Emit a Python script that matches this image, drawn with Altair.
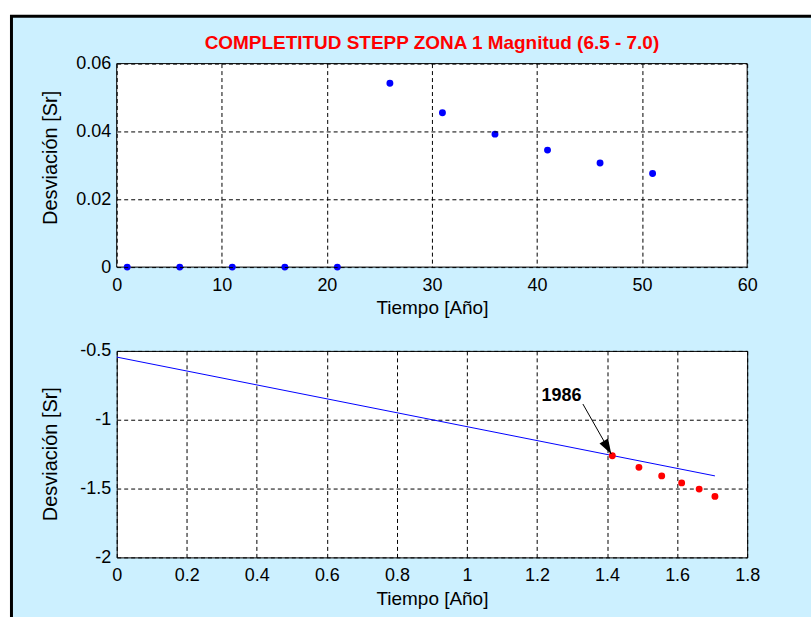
import altair as alt
import pandas as pd

# STEPP completeness, zone 1, magnitudes 6.5 - 7.0
tiempo = [1, 6, 11, 16, 21, 26, 31, 36, 41, 46, 51]
desviacion = [0, 0, 0, 0, 0, 0.0542, 0.0455, 0.0392, 0.0345, 0.0307, 0.0276]

# log-log view of the non-zero part
log_tiempo = [1.415, 1.491, 1.556, 1.613, 1.663, 1.708]
log_desviacion = [-1.262, -1.346, -1.408, -1.459, -1.504, -1.557]

# fitted line (endpoints)
ajuste_x = [0.0, 1.708]
ajuste_y = [-0.545, -1.408]

# annotation for the completeness year
anio_texto = ["1986"]
anio_pos = [1.270, -0.826]
flecha_desde = [1.331, -0.886]
flecha_hasta = [1.412, -1.249]

x_ticks_top = [0, 10, 20, 30, 40, 50, 60]
y_ticks_top = [0, 0.02, 0.04, 0.06]
x_ticks_bot = [0, 0.2, 0.4, 0.6, 0.8, 1, 1.2, 1.4, 1.6, 1.8]
y_ticks_bot = [-2, -1.5, -1, -0.5]

titulo = ["COMPLETITUD STEPP ZONA 1 Magnitud (6.5 - 7.0)"]

W = 632
H1 = 204
H2 = 207
FONT = "Liberation Sans"
FIG_BG = "#ccf0ff"


def axis_x(values, zindex=0):
    return alt.Axis(
        values=values, title="Tiempo [Año]", labelExpr="'' + datum.value",
        grid=True, ticks=False, domain=False, labelPadding=9, titlePadding=5,
        labelFlush=False, titleFontSize=19, zindex=zindex,
    )


def axis_y(values, title_y, zindex=0):
    return alt.Axis(
        values=values, title="Desviación [Sr]", labelExpr="'' + datum.value",
        grid=True, ticks=False, domain=False, labelPadding=6, labelFlush=False,
        titleX=-66, titleY=title_y, titleAngle=270, titleAlign="center",
        titleBaseline="middle", titleFontSize=20, zindex=zindex,
    )


uno = pd.DataFrame({"k": [0]})

# figure background: dark frame, light-blue panel and the white plot box
marco = alt.Chart(uno).mark_rect(color="black").encode(
    x=alt.value(-107), x2=alt.value(696), y=alt.value(-49), y2=alt.value(555)
)
fondo = alt.Chart(uno).mark_rect(color=FIG_BG).encode(
    x=alt.value(-104), x2=alt.value(696), y=alt.value(-46), y2=alt.value(555)
)
caja = alt.Chart(uno).mark_rect(fill="white", stroke="black", strokeWidth=1).encode(
    x=alt.value(0), x2=alt.value(W), y=alt.value(0), y2=alt.value(H1)
)

# figure title, centred over the upper plot
df_titulo = pd.DataFrame({"txt": titulo})
cabecera = alt.Chart(df_titulo).mark_text(
    font=FONT, fontSize=19, fontWeight="bold", color="#ff0000",
    align="center", baseline="middle",
).encode(x=alt.value(W / 2), y=alt.value(-21), text="txt:N")

df_top = pd.DataFrame({"t": tiempo, "s": desviacion})
puntos_top = alt.Chart(df_top).mark_circle(color="#0000ff", size=48, opacity=1).encode(
    x=alt.X("t:Q", scale=alt.Scale(domain=[0, 60], nice=False), axis=axis_x(x_ticks_top, 1)),
    y=alt.Y("s:Q", scale=alt.Scale(domain=[0, 0.06], nice=False), axis=axis_y(y_ticks_top, 94, 1)),
)

top = alt.layer(marco, fondo, caja, puntos_top, cabecera).properties(width=W, height=H1)

xs = alt.Scale(domain=[0, 1.8], nice=False)
ys = alt.Scale(domain=[-2, -0.5], nice=False)

df_fit = pd.DataFrame({"x": ajuste_x, "y": ajuste_y})
linea = alt.Chart(df_fit).mark_line(color="#0000ff", strokeWidth=1).encode(
    x=alt.X("x:Q", scale=xs, axis=axis_x(x_ticks_bot)),
    y=alt.Y("y:Q", scale=ys, axis=axis_y(y_ticks_bot, 103)),
)

df_log = pd.DataFrame({"x": log_tiempo, "y": log_desviacion})
puntos_bot = alt.Chart(df_log).mark_circle(color="#ff0000", size=48, opacity=1).encode(
    x=alt.X("x:Q", scale=xs), y=alt.Y("y:Q", scale=ys)
)

df_txt = pd.DataFrame({"x": [anio_pos[0]], "y": [anio_pos[1]], "txt": anio_texto})
etiqueta = alt.Chart(df_txt).mark_text(
    font=FONT, fontSize=18, fontWeight="bold", color="black", align="center", baseline="middle"
).encode(x=alt.X("x:Q", scale=xs), y=alt.Y("y:Q", scale=ys), text="txt:N")

df_arrow = pd.DataFrame({
    "x": [flecha_desde[0]], "y": [flecha_desde[1]],
    "x2": [flecha_hasta[0]], "y2": [flecha_hasta[1]],
})
flecha = alt.Chart(df_arrow).mark_rule(color="black", strokeWidth=1).encode(
    x=alt.X("x:Q", scale=xs), y=alt.Y("y:Q", scale=ys), x2="x2:Q", y2="y2:Q"
)
punta = alt.Chart(df_arrow).mark_point(
    shape="M0,0L-0.33,1L0.33,1Z", filled=True, color="black", opacity=1,
    size=900, angle=150,
).encode(x=alt.X("x2:Q", scale=xs), y=alt.Y("y2:Q", scale=ys))

bottom = alt.layer(linea, puntos_bot, flecha, punta, etiqueta).properties(width=W, height=H2)

chart = alt.vconcat(
    top, bottom, spacing=84, bounds="flush",
    padding={"left": 9, "top": 13, "right": 0, "bottom": 0},
).configure(
    background="white",
).configure_view(
    fill="white", stroke="black", strokeWidth=1,
).configure_axis(
    labelFont=FONT, labelFontSize=18, labelColor="black",
    titleFont=FONT, titleFontWeight="normal", titleColor="black",
    gridColor="black", gridDash=[4, 3], gridOpacity=1, gridWidth=1,
)

chart.save("out.html", embed_options={"renderer": "svg", "actions": False})
